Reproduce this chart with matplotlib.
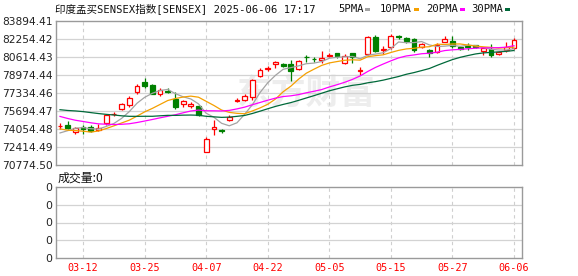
import matplotlib
matplotlib.use('Agg')
import matplotlib.pyplot as plt
from matplotlib.patches import Rectangle
import pandas as pd

# ---------------- data ----------------
dates = ['03-07', '03-10', '03-11', '03-12', '03-13', '03-17', '03-18', '03-19', '03-20', '03-21',
         '03-24', '03-25', '03-26', '03-27', '03-28', '04-01', '04-02', '04-03', '04-04', '04-07',
         '04-08', '04-09', '04-11', '04-15', '04-16', '04-17', '04-21', '04-22', '04-23', '04-24',
         '04-25', '04-28', '04-29', '04-30', '05-02', '05-05', '05-06', '05-07', '05-08', '05-09',
         '05-12', '05-13', '05-14', '05-15', '05-16', '05-19', '05-20', '05-21', '05-22', '05-23',
         '05-26', '05-27', '05-28', '05-29', '05-30', '06-02', '06-03', '06-04', '06-05', '06-06']
opens = [74300, 74400, 73743, 74270, 74250, 73950, 74608, 75420, 75850, 76250,
         77456, 78296, 78021, 77250, 77560, 76800, 76300, 76150, 76160, 71990,
         74100, 73950, 74880, 76650, 76700, 76968, 78903, 79480, 80000, 80000,
         80000, 79500, 80620, 80440, 80310, 80700, 80950, 80100, 80950, 79380,
         80900, 82400, 81260, 81500, 82500, 82380, 82220, 81560, 81250, 81100,
         82008, 82072, 81555, 81600, 81708, 81190, 81312, 80860, 81252, 81464]
highs = [74586, 74741, 74195, 74392, 74401, 74475, 75385, 75568, 76456, 77041,
         78155, 78741, 78167, 77747, 77766, 77400, 76680, 76493, 76258, 73300,
         74860, 74050, 75330, 76907, 77200, 78617, 79636, 79820, 80250, 80100,
         80300, 80321, 80800, 80580, 81180, 81000, 81000, 80844, 81000, 79700,
         82495, 82620, 81600, 82690, 82600, 82450, 82300, 81850, 81300, 81860,
         82527, 82527, 81600, 81860, 81750, 81450, 81774, 81100, 82008, 82320]
lows = [74050, 74030, 73633, 73599, 73773, 73878, 74436, 75260, 75807, 76054,
        77200, 77745, 77200, 77060, 77300, 75912, 76065, 76000, 75240, 71950,
        73500, 73700, 74762, 76544, 76600, 76666, 78776, 79300, 79600, 79700,
        78400, 79400, 80190, 80150, 80100, 80600, 80500, 79937, 80040, 78990,
        80800, 81100, 80900, 81312, 82250, 81900, 81100, 81450, 80585, 81000,
        81950, 81400, 81250, 81250, 81400, 80800, 80640, 80800, 81100, 81300]
closes = [74333, 74115, 74102, 74029, 73828, 74170, 75301, 75449, 76348, 76906,
          77984, 78017, 77288, 77606, 77415, 76024, 76617, 76295, 75365, 73138,
          74227, 73847, 75157, 76735, 77044, 78553, 79408, 79596, 80116, 79801,
          79300, 80218, 80580, 80400, 80502, 80797, 80680, 80747, 80585, 79454,
          82430, 81200, 81330, 82531, 82430, 82100, 81250, 81790, 81000, 81721,
          82254, 81600, 81343, 81555, 81494, 81403, 80797, 81040, 81494, 82163]
# closes of the 29 sessions before the first visible candle (needed for the moving averages)
prior_closes = [76190, 75367, 75901, 76532, 76760, 77501, 77187, 78584, 78271, 78058,
                77860, 77312, 76294, 76171, 76139, 75939, 75997, 75967, 75939, 75736,
                75311, 74454, 74602, 74612, 73198, 73086, 72990, 73730, 74340]
ma_periods = [5, 10, 20, 30]
ma_names = ['5PMA', '10PMA', '20PMA', '30PMA']
ma_colors = ['#a3a3a3', '#f5a000', '#ff00ff', '#00693a']
price_ticks = [70774.50, 72414.49, 74054.48, 75694.47, 77334.46, 78974.44, 80614.43, 82254.42, 83894.41]
price_tick_labels = ['70774.50', '72414.49', '74054.48', '75694.47', '77334.46',
                     '78974.44', '80614.43', '82254.42', '83894.41']
x_tick_dates = ['03-12', '03-25', '04-07', '04-22', '05-05', '05-15', '05-27', '06-06']
vol_ticks = [0, 1, 2, 3, 4]
vol_tick_labels = ['0', '0', '0', '0', '0']
title_text = '印度孟买SENSEX指数[SENSEX] 2025-06-06 17:17'
vol_title = '成交量:0'

# ---------------- figure ----------------
W, H = 578, 276
fig = plt.figure(figsize=(W / 100, H / 100), dpi=100)
fig.patch.set_facecolor('white')

def fx(px):
    return px / W

def fy(py):
    return 1 - py / H

L, R = 56, 522
ax = fig.add_axes([fx(L), fy(165), fx(R - L), (165 - 21) / H])
axv = fig.add_axes([fx(L), fy(258), fx(R - L), (258 - 187) / H])

n = len(dates)
xs = list(range(n))
xlim = (-0.52, n - 1 + 1.04)
tick_idx = [dates.index(d) for d in x_tick_dates]

UP = '#ff0000'
DN = '#008000'
GRID = '#d3d3d3'
FRAME = '#9a9a9a'

for a in (ax, axv):
    a.set_xlim(*xlim)
    for s in a.spines.values():
        s.set_color(FRAME)
        s.set_linewidth(1.0)
    a.tick_params(length=0)
    for t in tick_idx:
        a.axvline(t, color='#cfcfcf', lw=0.8, ls=(0, (3, 3)), zorder=1)

# main price panel
ax.set_ylim(price_ticks[0], price_ticks[-1])
ax.set_yticks(price_ticks)
ax.set_yticklabels(price_tick_labels, fontsize=7.7, color='#222222', family='DejaVu Sans')
ax.tick_params(axis='y', pad=2.4)
ax.set_xticks([])
for v in price_ticks[1:-1]:
    ax.axhline(v, color=GRID, lw=0.9, zorder=1)

ax.text(0.537, 0.50, '东方财富', transform=ax.transAxes, ha='center', va='center',
        fontsize=25, fontweight='bold', color='#ededed', family=['Noto Sans CJK SC'], zorder=0.5)

w = 0.62
for i in xs:
    o, h, l, c = opens[i], highs[i], lows[i], closes[i]
    if c >= o:
        ax.vlines(i, c, h, color=UP, lw=0.9, zorder=3)
        ax.vlines(i, l, o, color=UP, lw=0.9, zorder=3)
        ax.add_patch(Rectangle((i - w / 2, o), w, max(c - o, 1), facecolor='white',
                               edgecolor=UP, lw=0.9, zorder=3))
    else:
        ax.vlines(i, l, h, color=DN, lw=0.9, zorder=3)
        ax.add_patch(Rectangle((i - w / 2, c), w, o - c, facecolor=DN,
                               edgecolor=DN, lw=0.9, zorder=3))

all_closes = pd.Series(prior_closes + closes, dtype=float)
for p, col in zip(ma_periods, ma_colors):
    ma = all_closes.rolling(p).mean().iloc[len(prior_closes):].to_numpy()
    ax.plot(xs, ma, color=col, lw=0.9, zorder=4)

# volume panel
axv.set_ylim(vol_ticks[0], vol_ticks[-1])
axv.set_yticks(vol_ticks)
axv.set_yticklabels(vol_tick_labels, fontsize=7.9, color='#222222', family='DejaVu Sans')
axv.tick_params(axis='y', pad=3)
for v in vol_ticks[1:-1]:
    axv.axhline(v, color=GRID, lw=0.9, zorder=1)
axv.set_xticks(tick_idx)
axv.set_xticklabels(x_tick_dates, fontsize=7.3, color='#ff0000', family='DejaVu Sans Mono')
axv.tick_params(axis='x', pad=3.6)

# header texts
mono_cjk = ['DejaVu Sans Mono', 'Noto Sans CJK SC']
fig.text(fx(55), fy(9), title_text, ha='left', va='center', fontsize=7.6,
         family=mono_cjk, color='#111111')
leg_x = [338, 380, 426, 471]
for name, col, lx in zip(ma_names, ma_colors, leg_x):
    fig.text(fx(lx), fy(9), name, ha='left', va='center', fontsize=7.6,
             family=mono_cjk, color='#111111')
    tw = len(name) * 6.3
    fig.patches.append(Rectangle((fx(lx + tw + 2), fy(10.5)), fx(5), 2.8 / H,
                                 transform=fig.transFigure, facecolor=col,
                                 edgecolor='none'))
fig.text(fx(58), fy(178), vol_title, ha='left', va='center', fontsize=8.6,
         family=['Noto Sans CJK SC', 'DejaVu Sans'], color='#111111')

fig.savefig('out.png', dpi=100, facecolor='white')
